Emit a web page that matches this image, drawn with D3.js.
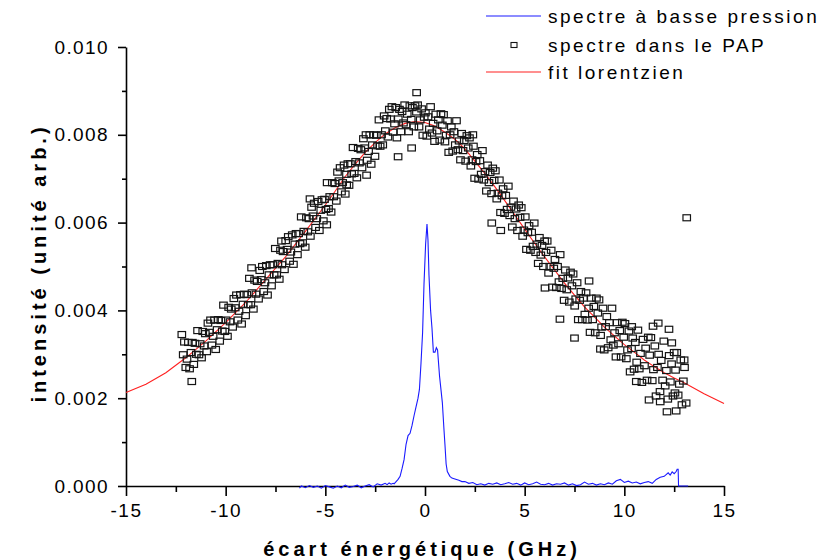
<!DOCTYPE html>
<html>
<head>
<meta charset="utf-8">
<script src="https://cdn.jsdelivr.net/npm/d3@7/dist/d3.min.js"></script>
<style>
  html, body { margin: 0; padding: 0; background: #fff; }
  svg { display: block; font-family: "Liberation Sans", Arial, sans-serif; }
</style>
</head>
<body>
<svg id="chart" width="830" height="560"></svg>
<script>
// ---- data (intensities in units of 1e-3) ----
const xTicks = [-15, -10, -5, 0, 5, 10, 15];
const xMinorTicks = [-12.5, -7.5, -2.5, 2.5, 7.5, 12.5];
const yTicks = [0, 0.002, 0.004, 0.006, 0.008, 0.010];
const yMinorTicks = [0.001, 0.003, 0.005, 0.007, 0.009];
const xTickLabels = ["-15", "-10", "-5", "0", "5", "10", "15"];
const yTickLabels = ["0.000", "0.002", "0.004", "0.006", "0.008", "0.010"];
const legendLabels = ["spectre à basse pression", "spectre dans le PAP", "fit lorentzien"];

// low-pressure spectrum (GHz, 1e-3)
const lowPressure = [
  [-6.3,-0.05],[-6.2,0.0],[-6.0,-0.04],[-5.8,0.01],[-5.6,-0.03],[-5.4,0.0],[-5.2,-0.05],[-5.0,0.01],
  [-4.8,-0.02],[-4.6,-0.05],[-4.4,0.0],[-4.2,-0.04],[-4.0,0.02],[-3.8,-0.03],[-3.6,-0.01],[-3.4,0.02],
  [-3.2,-0.04],[-3.0,0.0],[-2.8,0.03],[-2.6,-0.02],[-2.4,0.05],[-2.2,0.02],[-2.0,0.06],[-1.9,0.03],
  [-1.8,0.07],[-1.7,0.04],[-1.6,0.06],[-1.55,0.05],[-1.45,0.1],[-1.35,0.15],[-1.25,0.22],[-1.15,0.4],
  [-1.05,0.6],[-0.95,0.95],[-0.85,1.15],[-0.75,1.2],[-0.65,1.38],[-0.55,1.6],[-0.45,1.8],[-0.35,2.0],
  [-0.28,2.2],[-0.2,2.8],[-0.12,3.5],[-0.05,4.6],[0.03,5.5],[0.1,5.97],[0.15,5.6],[0.2,4.8],[0.28,4.0],
  [0.35,3.6],[0.42,3.05],[0.5,3.05],[0.57,3.15],[0.63,3.1],[0.73,2.5],[0.8,2.2],[0.87,1.9],[0.95,1.3],
  [1.0,0.95],[1.06,0.5],[1.12,0.33],[1.25,0.22],[1.35,0.18],[1.5,0.16],[1.7,0.13],[1.85,0.1],[2.0,0.1],
  [2.2,0.06],[2.4,0.08],[2.6,0.03],[2.8,0.05],[3.0,0.02],[3.2,0.06],[3.4,0.04],[3.6,0.07],[3.8,0.03],
  [4.0,0.05],[4.2,0.08],[4.4,0.04],[4.6,0.06],[4.8,0.02],[5.0,0.07],[5.2,0.03],[5.4,0.05],[5.6,0.09],
  [5.8,0.04],[6.0,0.03],[6.2,0.06],[6.4,0.02],[6.6,0.05],[6.8,0.04],[7.0,0.07],[7.2,0.02],[7.4,0.05],
  [7.6,0.01],[7.8,0.03],[8.0,0.09],[8.2,0.04],[8.4,0.06],[8.6,0.02],[8.8,0.05],[9.0,0.03],[9.2,0.07],
  [9.4,0.04],[9.6,0.12],[9.8,0.15],[10.0,0.08],[10.2,0.11],[10.4,0.07],[10.6,0.09],[10.8,0.05],[11.0,0.08],
  [11.2,0.1],[11.4,0.06],[11.6,0.15],[11.8,0.2],[12.0,0.22],[12.2,0.3],[12.3,0.25],[12.4,0.32],[12.5,0.28],
  [12.6,0.33],[12.65,0.38],[12.7,0.38],[12.72,0.0],[12.9,0.0],[13.2,0.0]
];

// spectrum in the PAP (GHz, 1e-3)
const papSpectrum = [
  [-12.2,3.45],[-12.13,2.99],[-12.07,3.28],[-12.0,2.70],[-11.94,2.89],[-11.87,3.27],[-11.81,2.67],[-11.7,2.38],
  [-11.74,3.04],[-11.67,3.27],[-11.6,2.77],[-11.54,3.25],[-11.47,3.00],[-11.41,3.54],[-11.34,2.99],[-11.28,3.24],
  [-11.21,2.92],[-11.15,3.52],[-11.08,3.19],[-11.02,3.47],[-10.95,3.06],[-10.89,3.71],[-10.82,3.50],[-10.76,3.78],
  [-10.69,3.21],[-10.63,3.41],[-10.56,3.78],[-10.5,3.11],[-10.43,3.56],[-10.37,3.79],[-10.3,3.30],[-10.24,3.77],
  [-10.17,3.53],[-10.11,4.12],[-10.04,3.52],
  [-9.98,3.78],[-9.91,3.41],[-9.85,4.07],[-9.78,3.74],[-9.72,4.03],[-9.65,3.62],[-9.59,4.27],[-9.52,4.06],
  [-9.46,4.35],[-9.39,3.78],[-9.33,3.98],[-9.26,4.36],[-9.2,3.69],[-9.13,4.14],[-9.07,4.37],[-9.0,3.88],
  [-8.94,4.36],[-8.87,4.13],[-8.81,4.73],[-8.7,4.97],[-8.74,4.13],[-8.68,4.40],[-8.61,4.03],[-8.55,4.69],
  [-8.48,4.37],[-8.42,4.66],[-8.35,4.26],[-8.29,4.91],[-8.22,4.70],[-8.16,5.00],[-8.09,4.43],[-8.03,4.63],
  [-7.96,5.02],[-7.9,4.35],[-7.83,4.81],[-7.77,5.04],[-7.7,4.56],[-7.64,5.04],[-7.57,4.81],[-7.51,5.41],
  [-7.44,4.81],[-7.38,5.07],[-7.31,4.71],[-7.25,5.37],[-7.2,5.58],[-7.18,5.04],[-7.12,5.34],[-7.05,4.93],
  [-6.99,5.59],[-6.92,5.39],[-6.86,5.68],[-6.79,5.12],[-6.73,5.33],[-6.66,5.72],[-6.6,5.05],[-6.53,5.51],
  [-6.47,5.75],[-6.4,5.27],[-6.34,5.75],[-6.27,5.52],[-6.21,6.13],[-6.14,5.54],[-6.08,5.80],[-6.01,5.44],
  [-5.95,6.11],[-5.88,5.79],[-5.82,6.09],[-5.77,6.54],[-5.75,5.69],[-5.69,6.35],[-5.62,6.15],[-5.56,6.44],
  [-5.49,5.89],[-5.43,6.09],[-5.36,6.48],[-5.3,5.82],[-5.23,6.28],[-5.17,6.52],[-5.1,6.04],[-5.04,6.53],
  [-4.97,6.30],[-4.93,5.95],[-4.91,6.91],[-4.84,6.32],[-4.78,6.59],[-4.71,6.24],[-4.65,6.91],[-4.58,6.59],
  [-4.52,6.89],[-4.45,6.49],[-4.39,7.15],[-4.32,6.95],[-4.26,7.25],[-4.19,6.70],[-4.13,6.91],[-4.06,7.31],
  [-4.0,6.65],[-3.93,6.86],[-3.94,7.10],[-3.87,7.34],[-3.81,6.85],[-3.74,7.34],[-3.68,7.11],[-3.61,7.71],
  [-3.55,7.12],[-3.48,7.39],[-3.42,7.02],[-3.35,7.69],[-3.29,7.36],[-3.22,7.66],[-3.16,7.25],[-3.09,7.91],
  [-3.03,7.70],[-2.96,8.00],[-2.93,7.08],[-2.9,7.42],[-2.83,7.62],[-2.77,8.00],[-2.7,7.33],[-2.64,7.77],
  [-2.57,8.00],[-2.51,7.51],[-2.44,7.99],[-2.38,7.75],[-2.31,8.34],[-2.25,7.74],[-2.18,8.00],[-2.12,7.77],
  [-2.05,8.43],[-1.99,8.09],[-1.92,8.37],[-1.86,7.95],[-1.79,8.58],[-1.73,8.36],[-1.66,8.64],[-1.6,8.06],
  [-1.53,8.25],[-1.47,8.62],[-1.41,7.93],[-1.35,7.5],[-1.34,8.36],[-1.28,8.58],[-1.21,8.07],[-1.15,8.53],
  [-1.08,8.27],[-1.02,8.68],[-0.95,8.23],[-0.89,8.47],[-0.82,8.07],[-0.76,8.66],[-0.69,8.35],[-0.67,7.7],
  [-0.63,8.62],[-0.56,8.18],[-0.5,8.66],[-0.43,8.52],[-0.42,8.96],[-0.37,8.68],[-0.3,8.18],[-0.24,8.34],
  [-0.17,8.59],[-0.11,7.99],[-0.04,8.40],[0.02,8.50],
  [0.09,7.97],[0.15,8.41],[0.22,8.13],[0.28,8.64],[0.35,8.04],[0.41,8.26],[0.48,7.85],[0.54,8.47],
  [0.61,8.09],[0.67,8.34],[0.74,7.88],[0.8,8.48],[0.87,8.22],[0.93,8.46],[1.0,7.84],[1.06,7.99],
  [1.13,8.32],[1.19,7.60],[1.26,8.00],[1.32,8.18],[1.39,7.63],[1.45,8.07],[1.52,7.77],[1.58,8.32],
  [1.65,7.66],[1.71,7.86],[1.78,7.43],[1.84,8.03],[1.91,7.64],[1.97,7.87],
  [2.04,7.40],[2.1,7.98],[2.17,7.70],[2.23,7.93],[2.3,7.29],[2.36,7.43],[2.4,8.0],[2.43,7.74],
  [2.49,7.01],[2.56,7.39],[2.62,7.55],[2.69,6.99],[2.75,7.41],[2.82,7.10],[2.88,7.64],[2.95,6.97],
  [3.01,7.16],[3.08,6.72],[3.14,7.31],[3.21,6.91],[3.27,7.14],[3.34,6.66],[3.35,5.99],[3.4,7.24],
  [3.47,6.96],[3.53,7.18],[3.6,6.54],[3.66,6.67],[3.73,6.97],[3.8,5.82],[3.79,6.23],[3.86,6.61],
  [3.92,6.77],[3.99,6.21],
  [4.05,6.62],[4.12,6.30],[4.18,6.83],[4.25,6.16],[4.31,6.35],[4.38,5.90],[4.44,6.49],[4.51,6.09],
  [4.57,6.31],[4.64,5.82],[4.7,6.40],[4.77,6.12],[4.83,6.34],[4.9,5.69],[4.96,5.83],[5.03,6.13],
  [5.09,5.39],[5.16,5.77],[5.22,5.93],[5.29,5.37],[5.35,5.78],[5.42,5.46],[5.48,5.99],[5.55,5.32],
  [5.61,5.51],[5.68,5.07],[5.74,5.66],[5.81,5.26],[5.87,5.48],[5.94,5.00],[6.0,5.58],[6.02,4.51],
  [6.07,5.32],[6.13,5.58],[6.2,4.85],[6.26,5.00],[6.33,5.37],[6.39,4.53],[6.46,4.96],[6.52,5.16],
  [6.59,4.52],[6.65,5.00],[6.72,4.65],[6.77,3.8],[6.78,5.27],[6.85,4.50],[6.91,4.73],[6.98,4.23],
  [7.04,4.92],[7.11,4.47],[7.17,4.74],[7.24,4.19],[7.3,4.87],[7.37,4.56],[7.43,4.83],[7.5,3.37],
  [7.51,4.10],[7.56,4.26],[7.63,4.63],[7.69,3.79],[7.76,4.23],[7.82,4.43],[7.89,3.79],[7.95,4.28],
  [8.02,3.91],[8.08,4.40],[8.15,3.78],[8.21,4.05],[8.23,4.67],[8.28,3.50],[8.34,4.28],[8.41,3.79],
  [8.47,4.09],[8.54,3.49],[8.6,4.28],[8.67,3.94],[8.73,4.24],[8.8,3.12],[8.81,3.43],[8.86,3.62],
  [8.93,4.05],[8.99,3.10],[9.06,3.63],[9.12,3.86],[9.19,3.15],[9.25,3.72],[9.32,3.33],[9.38,4.05],
  [9.45,3.21],[9.51,3.49],[9.58,2.94],[9.64,3.72],[9.71,3.24],[9.77,3.54],[9.84,2.94],[9.9,3.73],
  [9.97,3.39],[10.03,3.70],[10.1,2.90],[10.16,3.10],[10.23,3.53],[10.29,2.60],[10.36,3.13],[10.37,3.63],
  [10.42,3.37],[10.49,2.66],
  [10.55,3.27],[10.6,2.38],[10.62,2.82],[10.68,3.55],[10.75,2.67],[10.81,3.02],[10.88,2.36],[10.94,3.34],
  [11.01,2.74],[11.07,3.14],[11.14,2.41],[11.2,3.39],[11.24,1.96],[11.27,2.98],[11.33,3.38],[11.4,2.40],
  [11.44,3.64],[11.46,2.65],[11.53,3.19],[11.59,2.05],[11.66,2.70],[11.7,3.71],[11.72,3.00],[11.79,2.15],
  [11.8,1.92],[11.85,2.86],[11.92,2.41],[11.98,3.30],[12.05,2.28],[12.11,2.63],[12.14,1.69],[12.18,1.98],
  [12.24,3.57],[12.25,2.97],[12.31,2.37],[12.37,2.78],[12.38,3.26],[12.44,2.05],[12.5,3.04],[12.54,2.12],
  [12.57,2.64],[12.6,1.71],[12.63,3.04],[12.7,2.07],[12.76,2.32],[12.83,2.87],[12.89,1.85],[12.96,2.39],
  [13.0,2.87],[13.02,2.70],[13.1,1.89],[13.13,6.11]
];

// Lorentzian fit (GHz, 1e-3)
const lorentzFit = [
  [-15,2.13],[-14,2.32],[-13,2.58],[-12,2.92],[-11,3.30],[-10,3.72],[-9,4.18],[-8,4.70],[-7,5.22],
  [-6,5.80],[-5,6.40],[-4.5,6.72],[-4,7.05],[-3.5,7.33],[-3,7.60],[-2.5,7.82],[-2,8.02],[-1.5,8.16],
  [-1,8.26],[-0.5,8.30],[0,8.28],[0.5,8.20],[1,8.06],[1.5,7.90],[2,7.68],[2.5,7.40],[3,7.12],[3.5,6.82],
  [4,6.50],[4.5,6.18],[5,5.85],[5.5,5.53],[6,5.22],[6.5,4.92],[7,4.62],[7.5,4.35],[8,4.08],[8.5,3.85],
  [9,3.62],[9.5,3.42],[10,3.22],[10.5,3.05],[11,2.87],[11.5,2.72],[12,2.58],[12.5,2.46],[13,2.35],
  [14,2.10],[15,1.88]
];

// ---- drawing ----
const svg = d3.select("#chart");
const mLeft = 126, mRight = 724, mTop = 47, mBottom = 486;
const x = d3.scaleLinear().domain([-15, 15]).range([mLeft, mRight]);
const y = d3.scaleLinear().domain([0, 0.010]).range([mBottom, mTop]);
const v = d => d * 1e-3;

const tickFont = 19;

// x axis
const gx = svg.append("g").attr("transform", `translate(0,${mBottom})`);
gx.append("g").call(d3.axisBottom(x).tickValues(xMinorTicks).tickSize(6).tickFormat(""))
  .call(g => g.select(".domain").remove());
gx.append("g").call(d3.axisBottom(x).tickValues(xTicks).tickSize(10).tickSizeOuter(0).tickPadding(8)
    .tickFormat((d, i) => xTickLabels[i]))
  .call(g => g.selectAll("text").attr("font-size", tickFont).attr("fill", "#000")
    .attr("font-family", "Liberation Sans, Arial, sans-serif").style("letter-spacing", "1.5px"));
gx.selectAll("line").attr("stroke", "#000").attr("stroke-width", 1.6);
gx.selectAll(".domain").attr("stroke", "#000").attr("stroke-width", 1.6);

// y axis
const gy = svg.append("g").attr("transform", `translate(${mLeft},0)`);
gy.append("g").call(d3.axisLeft(y).tickValues(yMinorTicks).tickSize(4).tickFormat(""))
  .call(g => g.select(".domain").remove());
gy.append("g").call(d3.axisLeft(y).tickValues(yTicks).tickSize(8).tickSizeOuter(0).tickPadding(9)
    .tickFormat((d, i) => yTickLabels[i]))
  .call(g => g.selectAll("text").attr("font-size", tickFont).attr("fill", "#000")
    .attr("font-family", "Liberation Sans, Arial, sans-serif").style("letter-spacing", "1.4px"));
gy.selectAll("line").attr("stroke", "#000").attr("stroke-width", 1.6);
gy.selectAll(".domain").attr("stroke", "#000").attr("stroke-width", 1.6);

// axis titles
svg.append("text").attr("x", 422).attr("y", 556)
  .attr("text-anchor", "middle").attr("font-size", 20).attr("font-weight", "bold")
  .style("letter-spacing", "4px").text("écart énergétique (GHz)");
svg.append("text").attr("transform", `translate(46,263) rotate(-90)`)
  .attr("text-anchor", "middle").attr("font-size", 20).attr("font-weight", "bold")
  .style("letter-spacing", "4px").text("intensité (unité arb.)");

// lorentz fit
svg.append("path").datum(lorentzFit)
  .attr("fill", "none").attr("stroke", "#ff2020").attr("stroke-width", 1.1)
  .attr("d", d3.line().x(d => x(d[0])).y(d => y(v(d[1]))));

// PAP spectrum scatter
svg.append("g").selectAll("rect").data(papSpectrum).join("rect")
  .attr("x", d => x(d[0]) - 3.75).attr("y", d => y(v(d[1])) - 3)
  .attr("width", 7.5).attr("height", 6)
  .attr("fill", "none").attr("stroke", "#151515").attr("stroke-width", 1.2);

// low-pressure spectrum
svg.append("path").datum(lowPressure)
  .attr("fill", "none").attr("stroke", "#1a1aff").attr("stroke-width", 1.1)
  .attr("d", d3.line().x(d => x(d[0])).y(d => y(v(d[1]))));

// legend
const lg = svg.append("g");
const legY = [16, 45, 72];
lg.append("line").attr("x1", 486).attr("x2", 541).attr("y1", legY[0]).attr("y2", legY[0])
  .attr("stroke", "#1a1aff").attr("stroke-width", 1.1);
lg.append("rect").attr("x", 511).attr("y", legY[1] - 2.5).attr("width", 6).attr("height", 5)
  .attr("fill", "none").attr("stroke", "#151515").attr("stroke-width", 1.1);
lg.append("line").attr("x1", 486).attr("x2", 541).attr("y1", legY[2]).attr("y2", legY[2])
  .attr("stroke", "#ff2020").attr("stroke-width", 1.1);
lg.selectAll("text").data(legendLabels).join("text")
  .attr("x", 548).attr("y", (d, i) => legY[i]).attr("dy", "0.35em")
  .attr("font-size", 19).style("letter-spacing", "2.5px").text(d => d);
</script>
</body>
</html>
